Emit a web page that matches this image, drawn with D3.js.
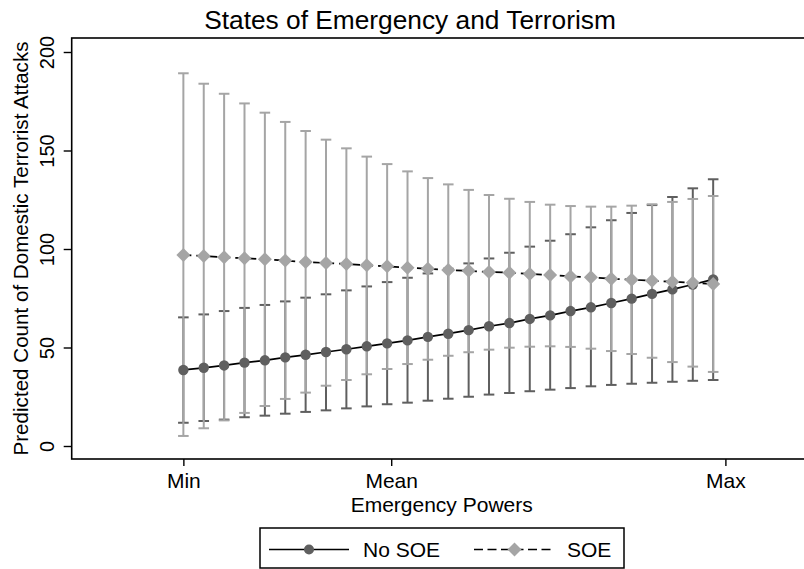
<!DOCTYPE html>
<html>
<head>
<meta charset="utf-8">
<script src="https://cdn.jsdelivr.net/npm/d3@7"></script>
<style>
  html, body { margin: 0; padding: 0; background: #fff; }
  svg { display: block; font-family: "Liberation Sans", Arial, Helvetica, sans-serif; }
</style>
</head>
<body>
<svg id="chart" width="804" height="569"></svg>
<script>
// ---- data ----
const steps = [0,1,2,3,4,5,6,7,8,9,10,11,12,13,14,15,16,17,18,19,20,21,22,23,24,25,26];
const xTickValues = [0, 10.2, 26.6];
const xTickLabels = ["Min", "Mean", "Max"];
const yTickValues = [0, 50, 100, 150, 200];

const noSoe      = [38.6, 39.7, 40.9, 42.3, 43.5, 45.0, 46.3, 47.7, 49.1, 50.6, 52.1, 53.6, 55.4, 57.0, 58.8, 60.8, 62.4, 64.5, 66.3, 68.5, 70.4, 72.6, 74.8, 77.2, 79.5, 82.0, 84.6];
const noSoeLower = [11.8, 12.7, 13.4, 14.6, 15.4, 16.4, 17.3, 18.1, 19.1, 20.1, 21.2, 22.0, 23.0, 24.0, 25.0, 26.1, 26.9, 27.8, 28.6, 29.4, 30.3, 31.0, 31.6, 32.1, 32.6, 33.1, 33.5];
const noSoeUpper = [65.3, 66.8, 68.5, 70.1, 71.6, 73.4, 75.3, 77.0, 79.0, 81.0, 83.2, 85.4, 87.6, 90.0, 92.7, 95.2, 98.1, 101.2, 104.2, 107.5, 111.0, 114.6, 118.3, 122.3, 126.4, 130.8, 135.4];

const soe        = [97.0, 96.4, 95.8, 95.3, 94.8, 94.1, 93.4, 92.9, 92.4, 91.7, 91.2, 90.5, 90.0, 89.3, 88.9, 88.3, 88.0, 87.3, 86.8, 86.1, 85.6, 84.9, 84.4, 83.9, 83.4, 82.9, 82.2];
const soeLower   = [5.1, 9.0, 13.0, 16.8, 20.3, 23.9, 27.1, 30.6, 33.5, 36.4, 39.1, 41.6, 43.8, 45.8, 47.6, 48.9, 49.9, 50.4, 50.6, 50.3, 49.4, 48.2, 46.7, 44.8, 42.6, 40.3, 37.6];
const soeUpper   = [189.2, 183.9, 178.8, 173.9, 169.2, 164.5, 159.9, 155.5, 151.1, 146.9, 143.1, 139.4, 136.0, 132.8, 130.0, 127.4, 125.5, 123.9, 122.5, 121.8, 121.5, 121.5, 122.0, 122.7, 123.9, 125.4, 126.9];

const seriesNames = ["No SOE", "SOE"];

// ---- layout ----
const svg = d3.select("#chart");
const plot = { left: 71.7, top: 38, right: 812, bottom: 459 };
const darkGray = "#5f5f5f";
const lightGray = "#a5a5a5";

const x = d3.scaleLinear().domain([-5.48, 30.85]).range([plot.left, plot.right]);
const y = d3.scaleLinear().domain([0, 200]).range([446, 52]);

// title
svg.append("text")
  .attr("x", 410).attr("y", 29)
  .attr("text-anchor", "middle")
  .attr("font-size", 26.3)
  .text("States of Emergency and Terrorism");

// frame
svg.append("rect")
  .attr("x", plot.left).attr("y", plot.top)
  .attr("width", plot.right - plot.left).attr("height", plot.bottom - plot.top)
  .attr("fill", "none").attr("stroke", "#000").attr("stroke-width", 1.6);

// y axis
const yAxis = svg.append("g")
  .attr("transform", `translate(${plot.left},0)`)
  .call(d3.axisLeft(y).tickValues(yTickValues).tickSize(8).tickFormat(d3.format("d")));
yAxis.select(".domain").remove();
yAxis.selectAll(".tick line").attr("stroke", "#000").attr("stroke-width", 1.4);
yAxis.selectAll(".tick text")
  .attr("font-size", 20)
  .attr("font-family", '"Liberation Sans", Arial, sans-serif')
  .attr("fill", "#000")
  .attr("text-anchor", "middle")
  .attr("x", 0).attr("dy", 0)
  .attr("transform", "translate(-18,0) rotate(-90)");

// x axis
const xAxis = svg.append("g")
  .attr("transform", `translate(0,${plot.bottom})`)
  .call(d3.axisBottom(x).tickValues(xTickValues).tickSize(7)
    .tickFormat((d, i) => xTickLabels[i]));
xAxis.select(".domain").remove();
xAxis.selectAll(".tick line").attr("stroke", "#000").attr("stroke-width", 1.4);
xAxis.selectAll(".tick text")
  .attr("font-size", 21)
  .attr("font-family", '"Liberation Sans", Arial, sans-serif')
  .attr("fill", "#000")
  .attr("dy", 0).attr("y", 29);

// axis titles
svg.append("text")
  .attr("x", 441.7).attr("y", 511.5)
  .attr("text-anchor", "middle").attr("font-size", 21)
  .text("Emergency Powers");
svg.append("text")
  .attr("transform", `translate(28,${(plot.top + plot.bottom) / 2}) rotate(-90)`)
  .attr("text-anchor", "middle").attr("font-size", 20.6)
  .text("Predicted Count of Domestic Terrorist Attacks");

// range caps
function drawCaps(lower, upper, color) {
  const g = svg.append("g").attr("stroke", color).attr("stroke-width", 2).attr("fill", "none");
  const capW = 5.3;
  steps.forEach((s, i) => {
    const cx = x(s);
    g.append("line").attr("x1", cx).attr("x2", cx).attr("y1", y(lower[i])).attr("y2", y(upper[i]));
    g.append("line").attr("x1", cx - capW).attr("x2", cx + capW).attr("y1", y(lower[i])).attr("y2", y(lower[i]));
    g.append("line").attr("x1", cx - capW).attr("x2", cx + capW).attr("y1", y(upper[i])).attr("y2", y(upper[i]));
  });
}
drawCaps(noSoeLower, noSoeUpper, darkGray);
drawCaps(soeLower, soeUpper, lightGray);

const line = d3.line().x(d => x(d[0])).y(d => y(d[1]));

// No SOE line + circles
svg.append("path")
  .datum(steps.map((s, i) => [s, noSoe[i]]))
  .attr("d", line).attr("fill", "none").attr("stroke", "#000").attr("stroke-width", 1.7);
svg.append("g").selectAll("circle").data(steps).join("circle")
  .attr("cx", s => x(s)).attr("cy", (s, i) => y(noSoe[i])).attr("r", 5.2)
  .attr("fill", darkGray);

// SOE dashed line + diamonds
svg.append("path")
  .datum(steps.map((s, i) => [s, soe[i]]))
  .attr("d", line).attr("fill", "none").attr("stroke", "#000").attr("stroke-width", 1.7)
  .attr("stroke-dasharray", "8,5");
const diamond = (cx, cy, r) => `M${cx},${cy - r}L${cx + r},${cy}L${cx},${cy + r}L${cx - r},${cy}Z`;
svg.append("g").selectAll("path").data(steps).join("path")
  .attr("d", (s, i) => diamond(x(s), y(soe[i]), 7))
  .attr("fill", lightGray);

// legend
const leg = svg.append("g");
leg.append("rect")
  .attr("x", 260).attr("y", 528).attr("width", 364).attr("height", 40)
  .attr("fill", "#fff").attr("stroke", "#000").attr("stroke-width", 1.5);
leg.append("line").attr("x1", 269).attr("x2", 349).attr("y1", 549.5).attr("y2", 549.5)
  .attr("stroke", "#000").attr("stroke-width", 1.7);
leg.append("circle").attr("cx", 309).attr("cy", 549.5).attr("r", 5).attr("fill", darkGray);
leg.append("text").attr("x", 363).attr("y", 557).attr("font-size", 21).text(seriesNames[0]);
leg.append("line").attr("x1", 474).attr("x2", 555).attr("y1", 549.5).attr("y2", 549.5)
  .attr("stroke", "#000").attr("stroke-width", 1.7).attr("stroke-dasharray", "9,4.5");
leg.append("path").attr("d", diamond(514.5, 549.5, 7)).attr("fill", lightGray);
leg.append("text").attr("x", 567).attr("y", 557).attr("font-size", 21).text(seriesNames[1]);
</script>
</body>
</html>
